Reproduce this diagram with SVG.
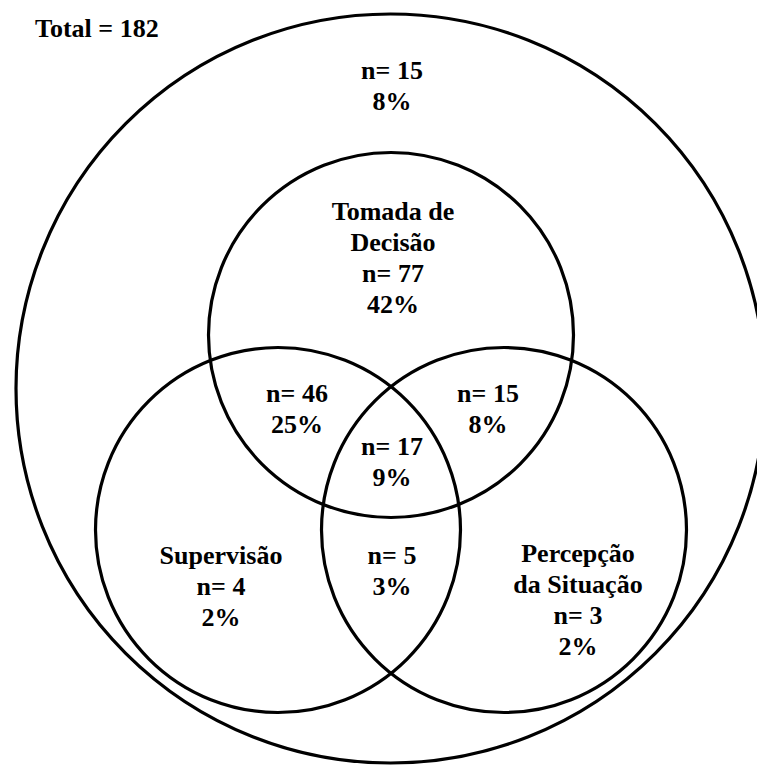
<svg xmlns="http://www.w3.org/2000/svg" width="757" height="765" viewBox="0 0 757 765">
  <style>
    .ring { fill: none; stroke: #000; stroke-width: 3.2; }
    .lbl { font-family: "Liberation Serif", "Times New Roman", serif; font-weight: bold; font-size: 26px; fill: #000; text-anchor: middle; }
    .lbl-start { text-anchor: start; }
  </style>
  <rect width="757" height="765" fill="#fff"/>

  <!-- outer set: all cases -->
  <g id="total">
    <circle class="ring" cx="390.5" cy="388.5" r="374.5"/>
    <text class="lbl lbl-start" x="35" y="37">Total = 182</text>
    <text class="lbl" x="392" y="79">n= 15</text>
    <text class="lbl" x="392" y="110">8%</text>
  </g>

  <!-- three overlapping sets -->
  <g id="connectors">
    <circle id="c-decisao" class="ring" cx="391" cy="335" r="182.5"/>
    <circle id="c-supervisao" class="ring" cx="278" cy="530" r="182.5"/>
    <circle id="c-percepcao" class="ring" cx="504" cy="530" r="182.5"/>
  </g>

  <g id="tomada-de-decisao">
    <text class="lbl" x="393" y="220">Tomada de</text>
    <text class="lbl" x="393" y="251">Decisão</text>
    <text class="lbl" x="393" y="282">n= 77</text>
    <text class="lbl" x="393" y="313">42%</text>
  </g>

  <g id="decisao-supervisao">
    <text class="lbl" x="297" y="402">n= 46</text>
    <text class="lbl" x="297" y="433">25%</text>
  </g>

  <g id="decisao-percepcao">
    <text class="lbl" x="488" y="402">n= 15</text>
    <text class="lbl" x="488" y="433">8%</text>
  </g>

  <g id="todos">
    <text class="lbl" x="392" y="455">n= 17</text>
    <text class="lbl" x="392" y="486">9%</text>
  </g>

  <g id="supervisao">
    <text class="lbl" x="221" y="564">Supervisão</text>
    <text class="lbl" x="221" y="595">n= 4</text>
    <text class="lbl" x="221" y="626">2%</text>
  </g>

  <g id="supervisao-percepcao">
    <text class="lbl" x="392" y="564">n= 5</text>
    <text class="lbl" x="392" y="595">3%</text>
  </g>

  <g id="percepcao-da-situacao">
    <text class="lbl" x="578" y="562">Percepção</text>
    <text class="lbl" x="578" y="593">da Situação</text>
    <text class="lbl" x="578" y="624">n= 3</text>
    <text class="lbl" x="578" y="655">2%</text>
  </g>
</svg>
